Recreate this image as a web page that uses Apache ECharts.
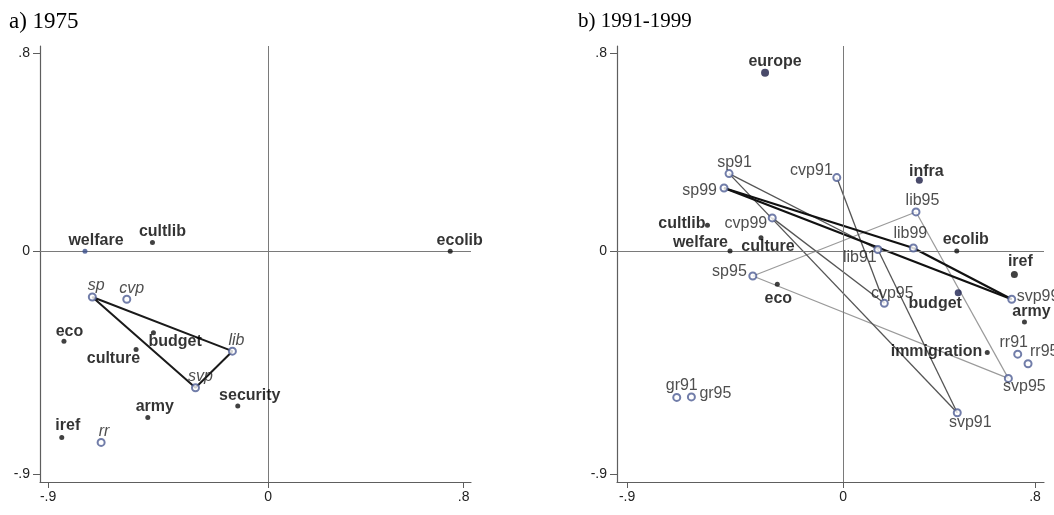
<!DOCTYPE html>
<html><head><meta charset="utf-8">
<script src="https://cdn.jsdelivr.net/npm/echarts@6/dist/echarts.min.js"></script>
<style>html,body{margin:0;padding:0;background:#fff;}#c{width:1054px;height:515px;}</style>
</head><body><div id="c"></div>
<script>
// ---------- DATA ----------
const tickValues = [-0.9, 0, 0.8];
const tickLabels = ['-.9', '0', '.8'];

// Panel a) 1975
const aIssueNames = ['welfare','cultlib','ecolib','eco','budget','culture','security','army','iref'];
const aIssueX     = [-0.749, -0.473, 0.745, -0.835, -0.469, -0.540, -0.124, -0.492, -0.844];
const aIssueY     = [0.000, 0.035, 0.000, -0.364, -0.329, -0.397, -0.626, -0.672, -0.753];
const aPartyNames = ['sp','cvp','lib','svp','rr'];
const aPartyX     = [-0.719, -0.578, -0.146, -0.297, -0.683];
const aPartyY     = [-0.185, -0.194, -0.404, -0.552, -0.773];
const aTriangle   = ['sp','lib','svp','sp'];

// Panel b) 1991-1999
const bIssueNames = ['europe','infra','cultlib','culture','welfare','ecolib','iref','eco','budget','army','immigration'];
const bIssueX     = [-0.325, 0.318, -0.565, -0.342, -0.471, 0.474, 0.714, -0.274, 0.480, 0.756, 0.601];
const bIssueY     = [0.722, 0.287, 0.105, 0.055, 0.001, 0.001, -0.094, -0.133, -0.168, -0.286, -0.409];
const bPartyNames = ['sp91','cvp91','sp99','lib95','cvp99','lib91','lib99','sp95','svp99','cvp95','rr91','rr95','svp95','svp91','gr91','gr95'];
const bPartyX     = [-0.475, -0.026, -0.496, 0.304, -0.295, 0.145, 0.293, -0.376, 0.703, 0.172, 0.728, 0.771, 0.689, 0.476, -0.693, -0.632];
const bPartyY     = [0.314, 0.298, 0.256, 0.159, 0.135, 0.007, 0.013, -0.100, -0.194, -0.210, -0.416, -0.455, -0.514, -0.653, -0.591, -0.589];
const bLines99 = [['sp99','lib99'],['lib99','svp99'],['svp99','sp99']];
const bLines91 = [['sp91','lib91'],['lib91','svp91'],['svp91','sp91'],['cvp91','cvp95'],['cvp95','cvp99']];
const bLines95 = [['sp95','lib95'],['lib95','svp95'],['svp95','sp95']];

// ---------- LAYOUT / STYLE ----------
const FONT = 'Liberation Sans, Arial, Helvetica, sans-serif';
// label placement: [align, dx, dy] (anchor offset from marker centre)
const placeA = {
  welfare:['center',11,-11], cultlib:['center',10,-11], ecolib:['center',9.5,-11], eco:['center',5.5,-10],
  budget:['left',-5,9], culture:['right',4,9], security:['center',12,-10], army:['center',7,-11], iref:['center',6,-11.5],
  sp:['center',4,-11], cvp:['center',5,-11], lib:['center',4,-11], svp:['center',5,-11], rr:['center',3,-11]
};
const placeB = {
  europe:['center',10,-11], infra:['center',7,-9], cultlib:['right',-2,-2], culture:['center',7,9], welfare:['right',-2,-8],
  ecolib:['center',9,-11], iref:['center',6,-12.5], eco:['center',1,14], budget:['center',-23,10.5], army:['center',7,-10],
  immigration:['right',-5,-1],
  sp91:['center',5.5,-11], cvp91:['right',-4,-7], sp99:['right',-7,3], lib95:['center',6.5,-11], cvp99:['right',-5,5.5],
  lib91:['center',-18,8], lib99:['center',-3,-14], sp95:['right',-6,-4], svp99:['left',5,-3], cvp95:['center',8,-10],
  rr91:['center',-4,-12], rr95:['left',2,-12.5], svp95:['center',16,8.5], svp91:['center',13,10], gr91:['center',5,-11.5], gr95:['left',8,-3]
};
const bigDots = {europe:['#1b1d45',8], infra:['#1b1d45',7], budget:['#1b2050',7], iref:['#111',7]};

function pts(names, xs, ys, place, grid, kind) {
  return names.map((n, i) => {
    const p = place[n] || ['center',0,-11];
    const item = {name: n, value: [xs[i], ys[i]],
      label: {show: true, position: 'inside', align: p[0], verticalAlign: 'middle', offset: [p[1], p[2]]}};
    if (kind === 'issue' && grid === 1 && bigDots[n]) {
      item.symbolSize = bigDots[n][1];
      item.itemStyle = {color: bigDots[n][0]};
    }
    if (kind === 'issue' && grid === 0 && n === 'welfare') item.itemStyle = {color: '#3a4f8c'};
    return item;
  });
}
function lookup(names, xs, ys) { const m = {}; names.forEach((n, i) => m[n] = [xs[i], ys[i]]); return m; }
const aMap = lookup(aPartyNames, aPartyX, aPartyY);
const bMap = lookup(bPartyNames, bPartyX, bPartyY);

function fmtTick(v) { return tickLabels[tickValues.findIndex(t => Math.abs(t - v) < 1e-6)]; }
function axisX(idx, min, max) {
  return {gridIndex: idx, type: 'value', min: min, max: max, splitLine: {show: false},
    axisLine: {show: true, onZero: false, lineStyle: {color: '#5e5e5e', width: 1.2}},
    axisTick: {show: true, length: 6, customValues: tickValues, lineStyle: {color: '#5e5e5e'}},
    axisLabel: {show: true, customValues: tickValues, margin: 8, fontFamily: FONT, fontSize: 14, color: '#222', formatter: fmtTick}};
}
function axisY(idx, min, max) {
  return {gridIndex: idx, type: 'value', min: min, max: max, splitLine: {show: false},
    axisLine: {show: true, onZero: false, lineStyle: {color: '#5e5e5e', width: 1.2}},
    axisTick: {show: true, length: 7, customValues: tickValues, lineStyle: {color: '#5e5e5e'}},
    axisLabel: {show: true, customValues: tickValues, margin: 10, fontFamily: FONT, fontSize: 14, color: '#222', formatter: fmtTick}};
}
function segSeries(idx, segs, map, color, width, z) {
  return segs.map(s => ({type: 'line', xAxisIndex: idx, yAxisIndex: idx, data: [map[s[0]], map[s[1]]],
    symbol: 'none', silent: true, z: z, lineStyle: {color: color, width: width}, animation: false}));
}
function zeroLines(idx) {
  return {type: 'scatter', xAxisIndex: idx, yAxisIndex: idx, data: [], silent: true, z: 1,
    markLine: {silent: true, symbol: 'none', label: {show: false}, animation: false,
      lineStyle: {color: '#7a7a7a', width: 1, type: 'solid'}, data: [{xAxis: 0}, {yAxis: 0}]}};
}
const issueLabel = {fontFamily: FONT, fontSize: 16, fontWeight: 'bold', color: '#000', textBorderWidth: 0, formatter: '{b}'};

const option = {
  animation: false,
  backgroundColor: '#fff',
  title: [
    {text: 'a) 1975', left: 4, top: 5, textStyle: {fontFamily: 'Liberation Serif, Times New Roman, serif', fontSize: 23, fontWeight: 'normal', color: '#000'}},
    {text: 'b) 1991-1999', left: 573, top: 6, textStyle: {fontFamily: 'Liberation Serif, Times New Roman, serif', fontSize: 21, fontWeight: 'normal', color: '#000'}}
  ],
  grid: [
    {left: 40, top: 46, width: 431, height: 436},
    {left: 617, top: 46, width: 427, height: 436}
  ],
  xAxis: [axisX(0, -0.933, 0.83), axisX(1, -0.942, 0.8375)],
  yAxis: [axisY(0, -0.933, 0.83), axisY(1, -0.933, 0.83)],
  series: [
    zeroLines(0), zeroLines(1),
    {type: 'line', xAxisIndex: 0, yAxisIndex: 0, data: aTriangle.map(n => aMap[n]), symbol: 'none', silent: true, z: 3,
      lineStyle: {color: '#1a1a1a', width: 2}},
    ...segSeries(1, bLines95, bMap, '#9a9a9a', 1.2, 2),
    ...segSeries(1, bLines91, bMap, '#555', 1.3, 3),
    ...segSeries(1, bLines99, bMap, '#111', 2.2, 4),
    {type: 'scatter', xAxisIndex: 0, yAxisIndex: 0, symbol: 'circle', symbolSize: 5, z: 6,
      itemStyle: {color: '#111'}, label: issueLabel,
      data: pts(aIssueNames, aIssueX, aIssueY, placeA, 0, 'issue')},
    {type: 'scatter', xAxisIndex: 0, yAxisIndex: 0, symbol: 'emptyCircle', symbolSize: 7, z: 6,
      itemStyle: {color: '#4d5d93', borderWidth: 1.5},
      label: {fontFamily: FONT, fontSize: 16, fontStyle: 'italic', color: '#222', textBorderWidth: 0, formatter: '{b}'},
      data: pts(aPartyNames, aPartyX, aPartyY, placeA, 0, 'party')},
    {type: 'scatter', xAxisIndex: 1, yAxisIndex: 1, symbol: 'circle', symbolSize: 5, z: 6,
      itemStyle: {color: '#111'}, label: issueLabel,
      data: pts(bIssueNames, bIssueX, bIssueY, placeB, 1, 'issue')},
    {type: 'scatter', xAxisIndex: 1, yAxisIndex: 1, symbol: 'emptyCircle', symbolSize: 7, z: 6,
      itemStyle: {color: '#4d5d93', borderWidth: 1.5},
      label: {fontFamily: FONT, fontSize: 16, color: '#222', textBorderWidth: 0, formatter: '{b}'},
      data: pts(bPartyNames, bPartyX, bPartyY, placeB, 1, 'party')}
  ]
};
const chart = echarts.init(document.getElementById('c'), null, {renderer: 'canvas'});
chart.setOption(option);
</script></body></html>
